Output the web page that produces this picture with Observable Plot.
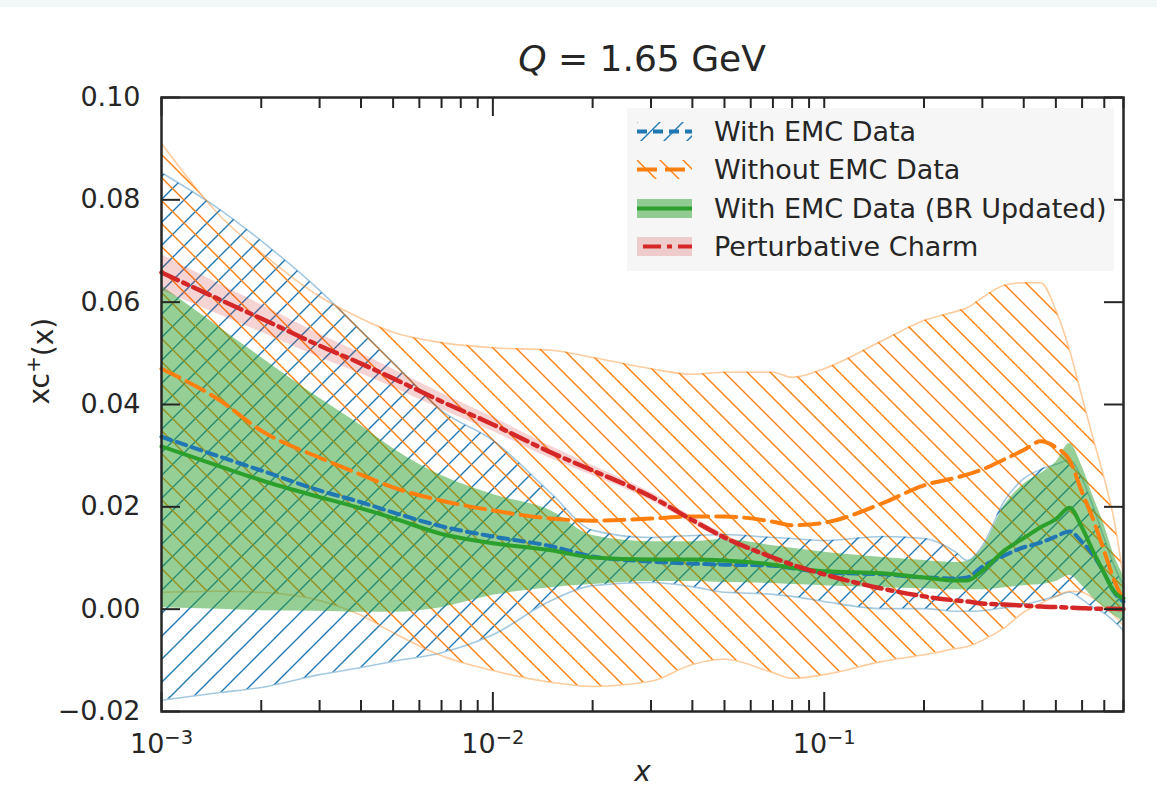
<!DOCTYPE html>
<html>
<head>
<meta charset="utf-8">
<script src="https://cdn.jsdelivr.net/npm/d3@7"></script>
<script src="https://cdn.jsdelivr.net/npm/@observablehq/plot@0.6"></script>
<style>
  html, body { margin: 0; padding: 0; background: #fff; }
  #page { position: relative; width: 1157px; height: 804px; overflow: hidden;
          font-family: "DejaVu Sans", sans-serif; color: #262626; }
  #strip { position: absolute; left: 0; top: 0; width: 1157px; height: 7px; background: #f2f7f7; }
  #title { position: absolute; left: 161px; width: 962px; top: 41px; height: 40px;
           font-size: 36px; line-height: 36px; text-align: center; white-space: nowrap; }
  #title i { font-style: italic; }
  #chart { position: absolute; left: 0; top: 85px; }
  #legend { position: absolute; left: 627px; top: 108px; width: 487px; height: 163px;
            background: #f6f6f6; }
  #legend .row { position: absolute; left: 0; height: 38px; display: flex; align-items: center;
                 font-size: 27px; white-space: nowrap; }
  #legend .key { margin-left: 10px; margin-right: 22px; flex: none; }
</style>
</head>
<body>
<svg width="0" height="0" style="position:absolute">
  <defs>
    <pattern id="hatch-blue" patternUnits="userSpaceOnUse" width="23" height="23">
      <path d="M-6,6 L6,-6 M0,23 L23,0 M17,29 L29,17" stroke="#1f77b4" stroke-width="1.4" fill="none"/>
    </pattern>
    <pattern id="hatch-orange" patternUnits="userSpaceOnUse" width="23" height="23">
      <path d="M-6,17 L6,29 M0,0 L23,23 M17,-6 L29,6" stroke="#ff7f0e" stroke-width="1.4" fill="none"/>
    </pattern>
  </defs>
</svg>
<div id="page">
  <div id="strip"></div>
  <div id="title"><i>Q</i> = 1.65 GeV</div>
  <div id="chart"></div>
  <div id="legend">
    <div class="row" style="top:4px">
      <svg class="key" width="55" height="19"><rect width="55" height="19" fill="url(#hatch-blue)"/><line x1="0" x2="55" y1="9.5" y2="9.5" stroke="#1f77b4" stroke-width="4" stroke-dasharray="10,6"/></svg>
      <span>With EMC Data</span>
    </div>
    <div class="row" style="top:42.5px">
      <svg class="key" width="55" height="19"><rect width="55" height="19" fill="url(#hatch-orange)"/><line x1="0" x2="55" y1="9.5" y2="9.5" stroke="#ff7f0e" stroke-width="4" stroke-dasharray="20,8"/></svg>
      <span>Without EMC Data</span>
    </div>
    <div class="row" style="top:81px">
      <svg class="key" width="55" height="19"><rect width="55" height="19" fill="#2ca02c" fill-opacity="0.5"/><line x1="0" x2="55" y1="9.5" y2="9.5" stroke="#2ca02c" stroke-width="4"/></svg>
      <span>With EMC Data (BR Updated)</span>
    </div>
    <div class="row" style="top:119.5px">
      <svg class="key" width="55" height="19"><rect width="55" height="19" fill="#d62728" fill-opacity="0.2"/><line x1="6" x2="55" y1="9.5" y2="9.5" stroke="#d62728" stroke-width="4" stroke-dasharray="18,6,5,6"/></svg>
      <span>Perturbative Charm</span>
    </div>
  </div>
</div>
<script>
// Momentum fraction grid
const xs = [0.001, 0.0015, 0.002, 0.003, 0.004, 0.005, 0.007, 0.01, 0.015, 0.02, 0.03, 0.04, 0.05, 0.07, 0.08,
            0.1, 0.15, 0.2, 0.25, 0.27, 0.3, 0.35, 0.4, 0.45, 0.5, 0.55, 0.6, 0.65, 0.7, 0.75, 0.8];

// With EMC data: central value and band
const withEMC   = [0.0337, 0.0298, 0.0271, 0.0232, 0.0209, 0.0189, 0.0162, 0.0142, 0.0123, 0.0103, 0.0093, 0.0089, 0.0087, 0.0085, 0.0080,
                   0.0072, 0.0068, 0.0062, 0.0060, 0.0062, 0.0083, 0.0105, 0.0121, 0.0130, 0.0142, 0.0152, 0.0131, 0.0105, 0.0070, 0.0033, 0.0015];
const withEMCLo = [-0.0178, -0.0163, -0.0153, -0.0128, -0.0114, -0.0102, -0.0085, -0.0050, 0.0017, 0.0046, 0.0052, 0.0044, 0.0033, 0.0029, 0.0025,
                   0.0015, 0.0001, 0.0001, -0.0004, -0.0004, -0.0003, 0.0003, 0.0009, 0.0017, 0.0025, 0.0033, 0.0019, 0.0003, -0.0008, -0.0024, -0.0042];
const withEMCHi = [0.0853, 0.0781, 0.0720, 0.0623, 0.0544, 0.0482, 0.0388, 0.0330, 0.0226, 0.0154, 0.0140, 0.0144, 0.0146, 0.0140, 0.0138,
                   0.0134, 0.0142, 0.0138, 0.0111, 0.0095, 0.0124, 0.0212, 0.0255, 0.0273, 0.0283, 0.0291, 0.0255, 0.0198, 0.0138, 0.0085, 0.0046];

// Without EMC data
const noEMC   = [0.0470, 0.0408, 0.0349, 0.0296, 0.0263, 0.0238, 0.0212, 0.0193, 0.0177, 0.0173, 0.0177, 0.0181, 0.0181, 0.0171, 0.0164,
                 0.0169, 0.0207, 0.0242, 0.0257, 0.0263, 0.0273, 0.0293, 0.0311, 0.0328, 0.0316, 0.0291, 0.0228, 0.0173, 0.0113, 0.0056, 0.0017];
const noEMCLo = [0.0033, 0.0035, 0.0033, 0.0017, -0.0012, -0.0046, -0.0091, -0.0120, -0.0143, -0.0151, -0.0141, -0.0108, -0.0098, -0.0124, -0.0135,
                 -0.0128, -0.0102, -0.0089, -0.0077, -0.0073, -0.0061, -0.0036, -0.0006, 0.0011, 0.0025, 0.0035, 0.0033, 0.0021, 0.0005, -0.0012, -0.0032];
const noEMCHi = [0.0910, 0.0769, 0.0697, 0.0611, 0.0568, 0.0541, 0.0521, 0.0511, 0.0506, 0.0492, 0.0470, 0.0459, 0.0463, 0.0463, 0.0453,
                 0.0470, 0.0525, 0.0564, 0.0582, 0.0589, 0.0609, 0.0633, 0.0638, 0.0638, 0.0584, 0.0506, 0.0414, 0.0330, 0.0255, 0.0173, 0.0060];

// With EMC data, updated branching ratios
const brUpdated   = [0.0318, 0.0279, 0.0252, 0.0219, 0.0197, 0.0178, 0.0147, 0.0129, 0.0115, 0.0101, 0.0097, 0.0097, 0.0095, 0.0087, 0.0081,
                     0.0074, 0.0070, 0.0062, 0.0056, 0.0056, 0.0075, 0.0115, 0.0139, 0.0160, 0.0176, 0.0198, 0.0159, 0.0111, 0.0070, 0.0034, 0.0021];
const brUpdatedLo = [0.0003, 0.0000, -0.0003, -0.0004, -0.0006, -0.0006, 0.0003, 0.0027, 0.0042, 0.0048, 0.0054, 0.0054, 0.0052, 0.0050, 0.0048,
                     0.0046, 0.0042, 0.0040, 0.0038, 0.0038, 0.0038, 0.0042, 0.0046, 0.0048, 0.0054, 0.0066, 0.0046, 0.0021, 0.0003, -0.0012, -0.0024];
const brUpdatedHi = [0.0632, 0.0550, 0.0492, 0.0412, 0.0359, 0.0314, 0.0261, 0.0224, 0.0192, 0.0144, 0.0132, 0.0132, 0.0136, 0.0124, 0.0119,
                     0.0111, 0.0101, 0.0095, 0.0091, 0.0093, 0.0119, 0.0203, 0.0244, 0.0265, 0.0287, 0.0324, 0.0279, 0.0218, 0.0164, 0.0105, 0.0066];

// Perturbative charm and its spread
const pertCharm  = [0.0658, 0.0605, 0.0568, 0.0515, 0.0480, 0.0451, 0.0406, 0.0361, 0.0306, 0.0271, 0.0220, 0.0174, 0.0140, 0.0101, 0.0087,
                    0.0068, 0.0040, 0.0025, 0.0017, 0.0015, 0.0011, 0.0009, 0.0007, 0.0005, 0.0004, 0.0003, 0.0002, 0.0001, 0.0001, 0.0001, 0.0000];
const pertSpread = [0.0035, 0.0030, 0.0027, 0.0023, 0.0020, 0.0018, 0.0016, 0.0014, 0.0012, 0.0010, 0.0008, 0.0007, 0.0006, 0.0005, 0.0004,
                    0.0003, 0.0002, 0.0002, 0.0001, 0.0001, 0.0001, 0.0001, 0.0001, 0.0000, 0.0000, 0.0000, 0.0000, 0.0000, 0.0000, 0.0000, 0.0000];

// Axis ticks
const yTicks = [-0.02, 0.00, 0.02, 0.04, 0.06, 0.08, 0.10];
const xMajor = [1e-3, 1e-2, 1e-1];
const xMinor = [2e-3, 3e-3, 4e-3, 5e-3, 6e-3, 7e-3, 8e-3, 9e-3,
                2e-2, 3e-2, 4e-2, 5e-2, 6e-2, 7e-2, 8e-2, 9e-2,
                2e-1, 3e-1, 4e-1, 5e-1, 6e-1, 7e-1, 8e-1];
const xTickLabels = ["10^−3", "10^−2", "10^−1"];
const yLabel = "xc+(x)";
const xLabel = "x";

const table = xs.map((x, i) => ({
  x,
  withEMC: withEMC[i], withEMCLo: withEMCLo[i], withEMCHi: withEMCHi[i],
  noEMC: noEMC[i], noEMCLo: noEMCLo[i], noEMCHi: noEMCHi[i],
  br: brUpdated[i], brLo: brUpdatedLo[i], brHi: brUpdatedHi[i],
  pert: pertCharm[i], pertLo: pertCharm[i] - pertSpread[i], pertHi: pertCharm[i] + pertSpread[i]
}));

const W = 1157, H = 719;
const mTop = 12, mBottom = 93, mLeft = 161, mRight = 34;
const plotH = H - mTop - mBottom;   // 614
const plotW = W - mLeft - mRight;   // 962
const ink = "#262626";
const curve = "monotone-x";
const major = 19, minor = 11;
const xTickText = (d) => xTickLabels[xMajor.findIndex((v) => Math.abs(v - d) < 1e-12)];

const chart = Plot.plot({
  width: W,
  height: H,
  marginTop: mTop,
  marginBottom: mBottom,
  marginLeft: mLeft,
  marginRight: mRight,
  style: { fontFamily: "DejaVu Sans, sans-serif", fontSize: "27px", color: ink, background: "transparent", overflow: "visible" },
  x: { type: "log", domain: [1e-3, 0.8], axis: null },
  y: { domain: [-0.02, 0.10], axis: null },
  marks: [
    // hatched uncertainty bands
    Plot.areaY(table, { x: "x", y1: "withEMCLo", y2: "withEMCHi", fill: "url(#hatch-blue)", curve }),
    Plot.areaY(table, { x: "x", y1: "noEMCLo", y2: "noEMCHi", fill: "url(#hatch-orange)", curve }),
    Plot.line(table, { x: "x", y: "withEMCHi", stroke: "#1f77b4", strokeOpacity: 0.4, strokeWidth: 1.6, curve }),
    Plot.line(table, { x: "x", y: "withEMCLo", stroke: "#1f77b4", strokeOpacity: 0.4, strokeWidth: 1.6, curve }),
    Plot.line(table, { x: "x", y: "noEMCHi", stroke: "#ff7f0e", strokeOpacity: 0.4, strokeWidth: 1.6, curve }),
    Plot.line(table, { x: "x", y: "noEMCLo", stroke: "#ff7f0e", strokeOpacity: 0.4, strokeWidth: 1.6, curve }),
    // filled bands
    Plot.areaY(table, { x: "x", y1: "brLo", y2: "brHi", fill: "#2ca02c", fillOpacity: 0.5, curve }),
    Plot.areaY(table, { x: "x", y1: "pertLo", y2: "pertHi", fill: "#d62728", fillOpacity: 0.2, curve }),
    // central values
    Plot.line(table, { x: "x", y: "noEMC", stroke: "#ff7f0e", strokeWidth: 4, strokeDasharray: "20,8", curve }),
    Plot.line(table, { x: "x", y: "withEMC", stroke: "#1f77b4", strokeWidth: 4, strokeDasharray: "10,6", curve }),
    Plot.line(table, { x: "x", y: "br", stroke: "#2ca02c", strokeWidth: 4, curve }),
    Plot.line(table, { x: "x", y: "pert", stroke: "#d62728", strokeWidth: 4.5, strokeDasharray: "18,6,5,6", curve }),
    // inward ticks on all four sides
    Plot.ruleX(xMajor, { stroke: ink, strokeWidth: 2, insetTop: plotH - major }),
    Plot.ruleX(xMajor, { stroke: ink, strokeWidth: 2, insetBottom: plotH - major }),
    Plot.ruleX(xMinor, { stroke: ink, strokeWidth: 2, insetTop: plotH - minor }),
    Plot.ruleX(xMinor, { stroke: ink, strokeWidth: 2, insetBottom: plotH - minor }),
    Plot.ruleY(yTicks, { stroke: ink, strokeWidth: 2, insetRight: plotW - major }),
    Plot.ruleY(yTicks, { stroke: ink, strokeWidth: 2, insetLeft: plotW - major }),
    // tick labels
    Plot.axisY({ ticks: yTicks, tickSize: 0, tickPadding: 21, tickFormat: d3.format(".2f"), label: null, fontSize: 27, fill: ink }),
    Plot.axisX({ ticks: xMajor, tickSize: 0, tickPadding: 22, tickFormat: xTickText, label: null, fontSize: 27, fill: ink }),
    // axis titles
    Plot.text([yLabel], { frameAnchor: "left", dx: -121, rotate: -90, fontSize: 28, fill: ink }),
    Plot.text([xLabel], { frameAnchor: "bottom", dy: 69, fontSize: 28, fontStyle: "italic", fill: ink }),
    Plot.frame({ stroke: ink, strokeWidth: 2.5 })
  ]
});

document.getElementById("chart").appendChild(chart);

// powers of ten with raised exponents
d3.select(chart).selectAll('g[aria-label="x-axis tick label"] text').each(function () {
  const parts = this.textContent.split("^");
  if (parts.length !== 2) return;
  const t = d3.select(this);
  t.text(parts[0]);
  t.append("tspan").attr("dy", "-0.45em").attr("font-size", "0.72em").text(parts[1]);
});

// superscript plus in the vertical axis title
d3.select(chart).selectAll("text").filter(function () { return this.textContent === yLabel; }).each(function () {
  const t = d3.select(this);
  t.text("xc");
  t.append("tspan").attr("dy", "-0.45em").attr("font-size", "0.72em").text("+");
  t.append("tspan").attr("dy", "0.45em").text("(x)");
});
</script>
</body>
</html>
